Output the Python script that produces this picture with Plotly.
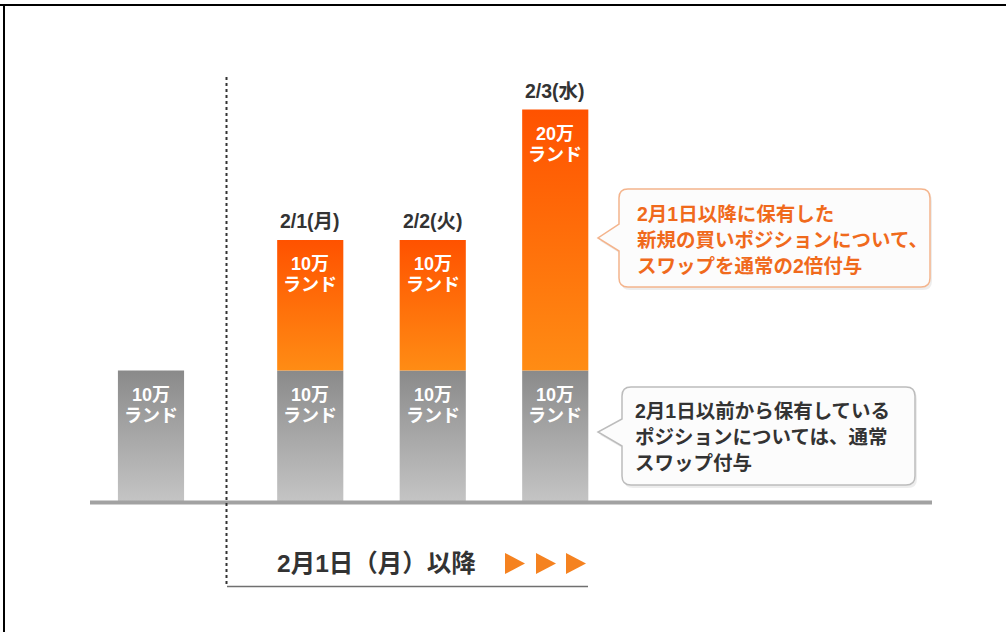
import plotly.graph_objects as go

# ---- data ----
categories = ["", "2/1(月)", "2/2(火)", "2/3(水)"]
existing_values = [10, 10, 10, 10]      # 万ランド, existing positions (normal swap)
new_values = [0, 10, 10, 20]            # 万ランド, new buy positions (double swap)
gap_after_first = 0.3
unit_line2 = "ランド"

callout_new = ["2月1日以降に保有した", "新規の買いポジションについて、", "スワップを通常の2倍付与"]
callout_old = ["2月1日以前から保有している", "ポジションについては、通常", "スワップ付与"]
period_label = "2月1日（月）以降"

W, H = 1006, 632
FONT = "Liberation Sans, Noto Sans CJK JP"

# positions from category index (first bar separated by a gap)
xpos = [i + (gap_after_first if i > 0 else 0) for i in range(len(categories))]
bar_w = 0.54

# axis ranges (1 x-unit ≈ 122.5px, 10万 ≈ 130.5px)
x_range = [-151 / 122.5, (W - 151) / 122.5]
y_range = [-(H - 501) / 13.05, 501 / 13.05]

fig = go.Figure()

def seg(x, b, t, c_bottom, c_top):
    fig.add_trace(go.Scatter(
        x=[x - bar_w / 2, x + bar_w / 2, x + bar_w / 2, x - bar_w / 2, x - bar_w / 2],
        y=[b, b, t, t, b], mode="lines", fill="toself", line=dict(width=0),
        fillgradient=dict(type="vertical", start=b, stop=t,
                          colorscale=[[0, c_bottom], [1, c_top]]),
        hoverinfo="skip", showlegend=False))

for i, x in enumerate(xpos):
    base = existing_values[i]
    seg(x, 0, base, "#c4c4c4", "#8a8a8a")
    if new_values[i] > 0:
        seg(x, base, base + new_values[i], "#ff8c14", "#ff5200")

px = lambda v: v / W
py = lambda v: 1 - v / H

ann = []
def bar_label(x, top, value):
    for txt, sh in ((f"{value}万", -24), (unit_line2, -45)):
        ann.append(dict(x=x, y=top, xref="x", yref="y", yanchor="middle", yshift=sh,
                        text=f"<b>{txt}</b>", showarrow=False, borderpad=0,
                        font=dict(family=FONT, size=18, color="white")))

for i, x in enumerate(xpos):
    base = existing_values[i]
    bar_label(x, base, existing_values[i])
    top = base
    if new_values[i] > 0:
        top = base + new_values[i]
        bar_label(x, top, new_values[i])
    if categories[i]:
        ann.append(dict(x=x, y=top, xref="x", yref="y", yanchor="middle", yshift=19,
                        text=f"<b>{categories[i]}</b>", showarrow=False,
                        font=dict(family=FONT, size=19.5, color="#333333")))

for k, line in enumerate(callout_new):
    ann.append(dict(x=px(636), y=py(214 + 26 * k), xref="paper", yref="paper",
                    xanchor="left", yanchor="middle", text=f"<b>{line}</b>", showarrow=False,
                    borderpad=0, font=dict(family=FONT, size=19.5, color="#f06a1c")))
for k, line in enumerate(callout_old):
    ann.append(dict(x=px(634), y=py(411 + 26 * k), xref="paper", yref="paper",
                    xanchor="left", yanchor="middle", text=f"<b>{line}</b>", showarrow=False,
                    borderpad=0, font=dict(family=FONT, size=19.5, color="#333333")))
ann.append(dict(x=px(376), y=py(563), xref="paper", yref="paper", xanchor="center",
                yanchor="middle", text=f"<b>{period_label}</b>", showarrow=False,
                font=dict(family=FONT, size=24.5, color="#333333")))

shapes = []
def P(x, y):
    return f"{px(x):.5f},{py(y):.5f}"

def callout_path(x0, y0, x1, y1, r, tipx, tipy, pb1, pb2, dx=0, dy=0):
    x0 += dx; x1 += dx; y0 += dy; y1 += dy; tipx += dx; tipy += dy; pb1 += dy; pb2 += dy
    return (f"M {P(x0 + r, y0)} L {P(x1 - r, y0)} Q {P(x1, y0)} {P(x1, y0 + r)} "
            f"L {P(x1, y1 - r)} Q {P(x1, y1)} {P(x1 - r, y1)} L {P(x0 + r, y1)} "
            f"Q {P(x0, y1)} {P(x0, y1 - r)} L {P(x0, pb2)} L {P(tipx, tipy)} "
            f"L {P(x0, pb1)} L {P(x0, y0 + r)} Q {P(x0, y0)} {P(x0 + r, y0)} Z")

for (box, border) in [((619, 189, 930, 287, 238, 224, 251), "#f4b48c"),
                      ((622, 387, 915, 485, 432, 419, 446), "#bcbcbc")]:
    x0, y0, x1, y1, ty, b1, b2 = box
    shapes.append(dict(type="path", xref="paper", yref="paper",
                       path=callout_path(x0, y0, x1, y1, 9, 598, ty, b1, b2, 2, 3),
                       fillcolor="rgba(0,0,0,0.07)", line=dict(width=0), layer="below"))
    shapes.append(dict(type="path", xref="paper", yref="paper",
                       path=callout_path(x0, y0, x1, y1, 9, 598, ty, b1, b2),
                       fillcolor="#fcfcfc", line=dict(color=border, width=1.5), layer="below"))

# baseline
shapes.append(dict(type="line", xref="paper", yref="paper", x0=px(90), x1=px(932),
                   y0=py(502.5), y1=py(502.5), line=dict(color="#a2a2a2", width=4)))
# dotted separator
shapes.append(dict(type="line", xref="paper", yref="paper", x0=px(226.5), x1=px(226.5),
                   y0=py(77), y1=py(586), line=dict(color="#333333", width=2, dash="dot")))
# bottom line
shapes.append(dict(type="line", xref="paper", yref="paper", x0=px(227), x1=px(588),
                   y0=py(586.5), y1=py(586.5), line=dict(color="#707070", width=1.5)))
# triangles
for tx in (505, 536, 566):
    shapes.append(dict(type="path", xref="paper", yref="paper",
                       path=f"M {P(tx, 553)} L {P(tx + 20, 563.5)} L {P(tx, 574)} Z",
                       fillcolor="#f58220", line=dict(width=0)))
# frame
shapes.append(dict(type="line", xref="paper", yref="paper", x0=0, x1=1, y0=py(5), y1=py(5),
                   line=dict(color="black", width=2)))
shapes.append(dict(type="line", xref="paper", yref="paper", x0=px(4), x1=px(4), y0=py(5), y1=0,
                   line=dict(color="black", width=2)))

fig.update_layout(
    width=W, height=H, margin=dict(l=0, r=0, t=0, b=0),
    paper_bgcolor="white", plot_bgcolor="white",
    xaxis=dict(range=x_range, visible=False, fixedrange=True),
    yaxis=dict(range=y_range, visible=False, fixedrange=True),
    annotations=ann, shapes=shapes, showlegend=False,
    font=dict(family=FONT),
)

fig.write_html("out.html", config={"displayModeBar": False},
               post_script="document.body.style.margin='0';")
